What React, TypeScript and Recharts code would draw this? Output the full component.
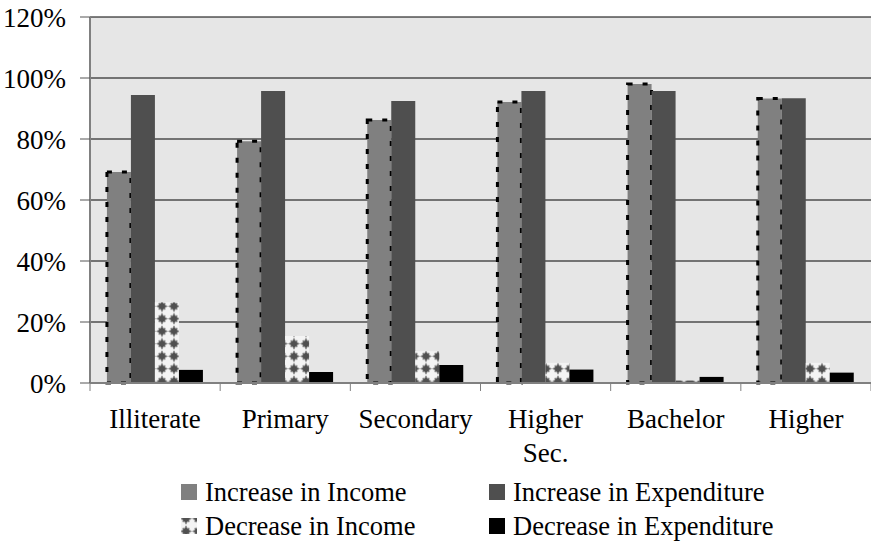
import { BarChart, Bar, XAxis, YAxis, CartesianGrid } from "recharts";

const categories = ["Illiterate", "Primary", "Secondary", "Higher Sec.", "Bachelor", "Higher"];
const increaseIncome = [69.2, 79.3, 86.2, 92.1, 98, 93.3];
const increaseExpenditure = [94.4, 95.7, 92.5, 95.7, 95.7, 93.4];
const decreaseIncome = [26.5, 15.4, 10.4, 6.6, 0.8, 6.6];
const decreaseExpenditure = [4.3, 3.6, 5.9, 4.4, 2, 3.4];
const yTicks = [0, 20, 40, 60, 80, 100, 120];

const data = categories.map((name, i) => ({
  name,
  incInc: increaseIncome[i],
  incExp: increaseExpenditure[i],
  decInc: decreaseIncome[i],
  decExp: decreaseExpenditure[i],
}));

const FONT = "Liberation Serif, Times New Roman, serif";
const textStyle = { fontFamily: FONT, fontSize: 27 };
const legendStyle = { fontFamily: FONT, fontSize: 26.5 };

const legendItems = [
  { label: "Increase in Income", fill: "#808080", x: 181, y: 484 },
  { label: "Increase in Expenditure", fill: "#4f4f4f", x: 489, y: 484 },
  { label: "Decrease in Income", fill: "url(#starsLegend)", x: 181, y: 518 },
  { label: "Decrease in Expenditure", fill: "#000", x: 489, y: 518 },
];

// star tile used for the "Decrease in Income" bars
const StarPattern = ({ id }: { id: string }) => (
  <pattern id={id} patternUnits="userSpaceOnUse" width={12} height={12.5}>
    <rect width={12} height={12.5} fill="#f4f4f4" />
    <path
      d="M6 0.75 L7.22 3.29 L9.18 3.07 L8.96 5.03 L11.5 6.25 L8.96 7.47 L9.18 9.43 L7.22 9.21 L6 11.75 L4.78 9.21 L2.82 9.43 L3.04 7.47 L0.5 6.25 L3.04 5.03 L2.82 3.07 L4.78 3.29 Z"
      fill="#505050"
      stroke="#8a8a8a"
      strokeWidth={0.7}
      strokeLinejoin="round"
    />
  </pattern>
);

const CategoryTick = (props: any) => {
  const { x, y, payload, index, width, visibleTicksCount } = props;
  const band = width / visibleTicksCount;
  const lines = String(payload.value).split(" ");
  return (
    <g>
      <line x1={x + band / 2} x2={x + band / 2} y1={y} y2={y + 8} stroke="#808080" />
      {index === 0 && (
        <line x1={x - band / 2} x2={x - band / 2} y1={y} y2={y + 8} stroke="#808080" />
      )}
      <text x={x} y={y + 45} textAnchor="middle" style={textStyle} fill="#000">
        {lines.map((l, i) => (
          <tspan key={l} x={x} dy={i === 0 ? 0 : 34}>
            {l}
          </tspan>
        ))}
      </text>
    </g>
  );
};

export default function App() {
  return (
    <div style={{ position: "absolute", left: 0, top: 0, width: 871, height: 548, background: "#fff" }}>
      <BarChart
        width={871}
        height={548}
        data={data}
        margin={{ top: 17, right: 0, bottom: 80, left: 0 }}
        barCategoryGap="13%"
        barGap={0}
        style={{ fontFamily: FONT }}
      >
        <defs>
          <StarPattern id="stars" />
        </defs>
        <CartesianGrid vertical={false} stroke="#000" strokeWidth={1} fill="#e6e6e6" />
        <XAxis
          dataKey="name"
          height={85}
          axisLine={{ stroke: "#808080", strokeWidth: 2 }}
          tickLine={false}
          tickSize={0}
          tickMargin={0}
          interval={0}
          tick={<CategoryTick />}
        />
        <YAxis
          width={90}
          domain={[0, 120]}
          ticks={yTicks}
          interval={0}
          tickFormatter={(v: number) => `${v}%`}
          axisLine={{ stroke: "#808080", strokeWidth: 2 }}
          tickLine={{ stroke: "#555" }}
          tickSize={10}
          tickMargin={14}
          tick={{ style: textStyle, fill: "#000" }}
        />
        <Bar
          dataKey="incInc"
          fill="#808080"
          stroke="#000"
          strokeWidth={3}
          strokeDasharray="5 10"
          isAnimationActive={false}
        />
        <Bar dataKey="incExp" fill="#4f4f4f" isAnimationActive={false} />
        <Bar dataKey="decInc" fill="url(#stars)" isAnimationActive={false} />
        <Bar dataKey="decExp" fill="#000" isAnimationActive={false} />
      </BarChart>
      <svg width={871} height={548} style={{ position: "absolute", left: 0, top: 0, pointerEvents: "none" }}>
        <defs>
          <StarPattern id="starsLegend" />
        </defs>
        {legendItems.map((it) => (
          <g key={it.label}>
            <rect x={it.x} y={it.y} width={16} height={16} fill={it.fill} />
            <text x={it.x + 24} y={it.y + 17} style={legendStyle} fill="#000">
              {it.label}
            </text>
          </g>
        ))}
      </svg>
    </div>
  );
}
